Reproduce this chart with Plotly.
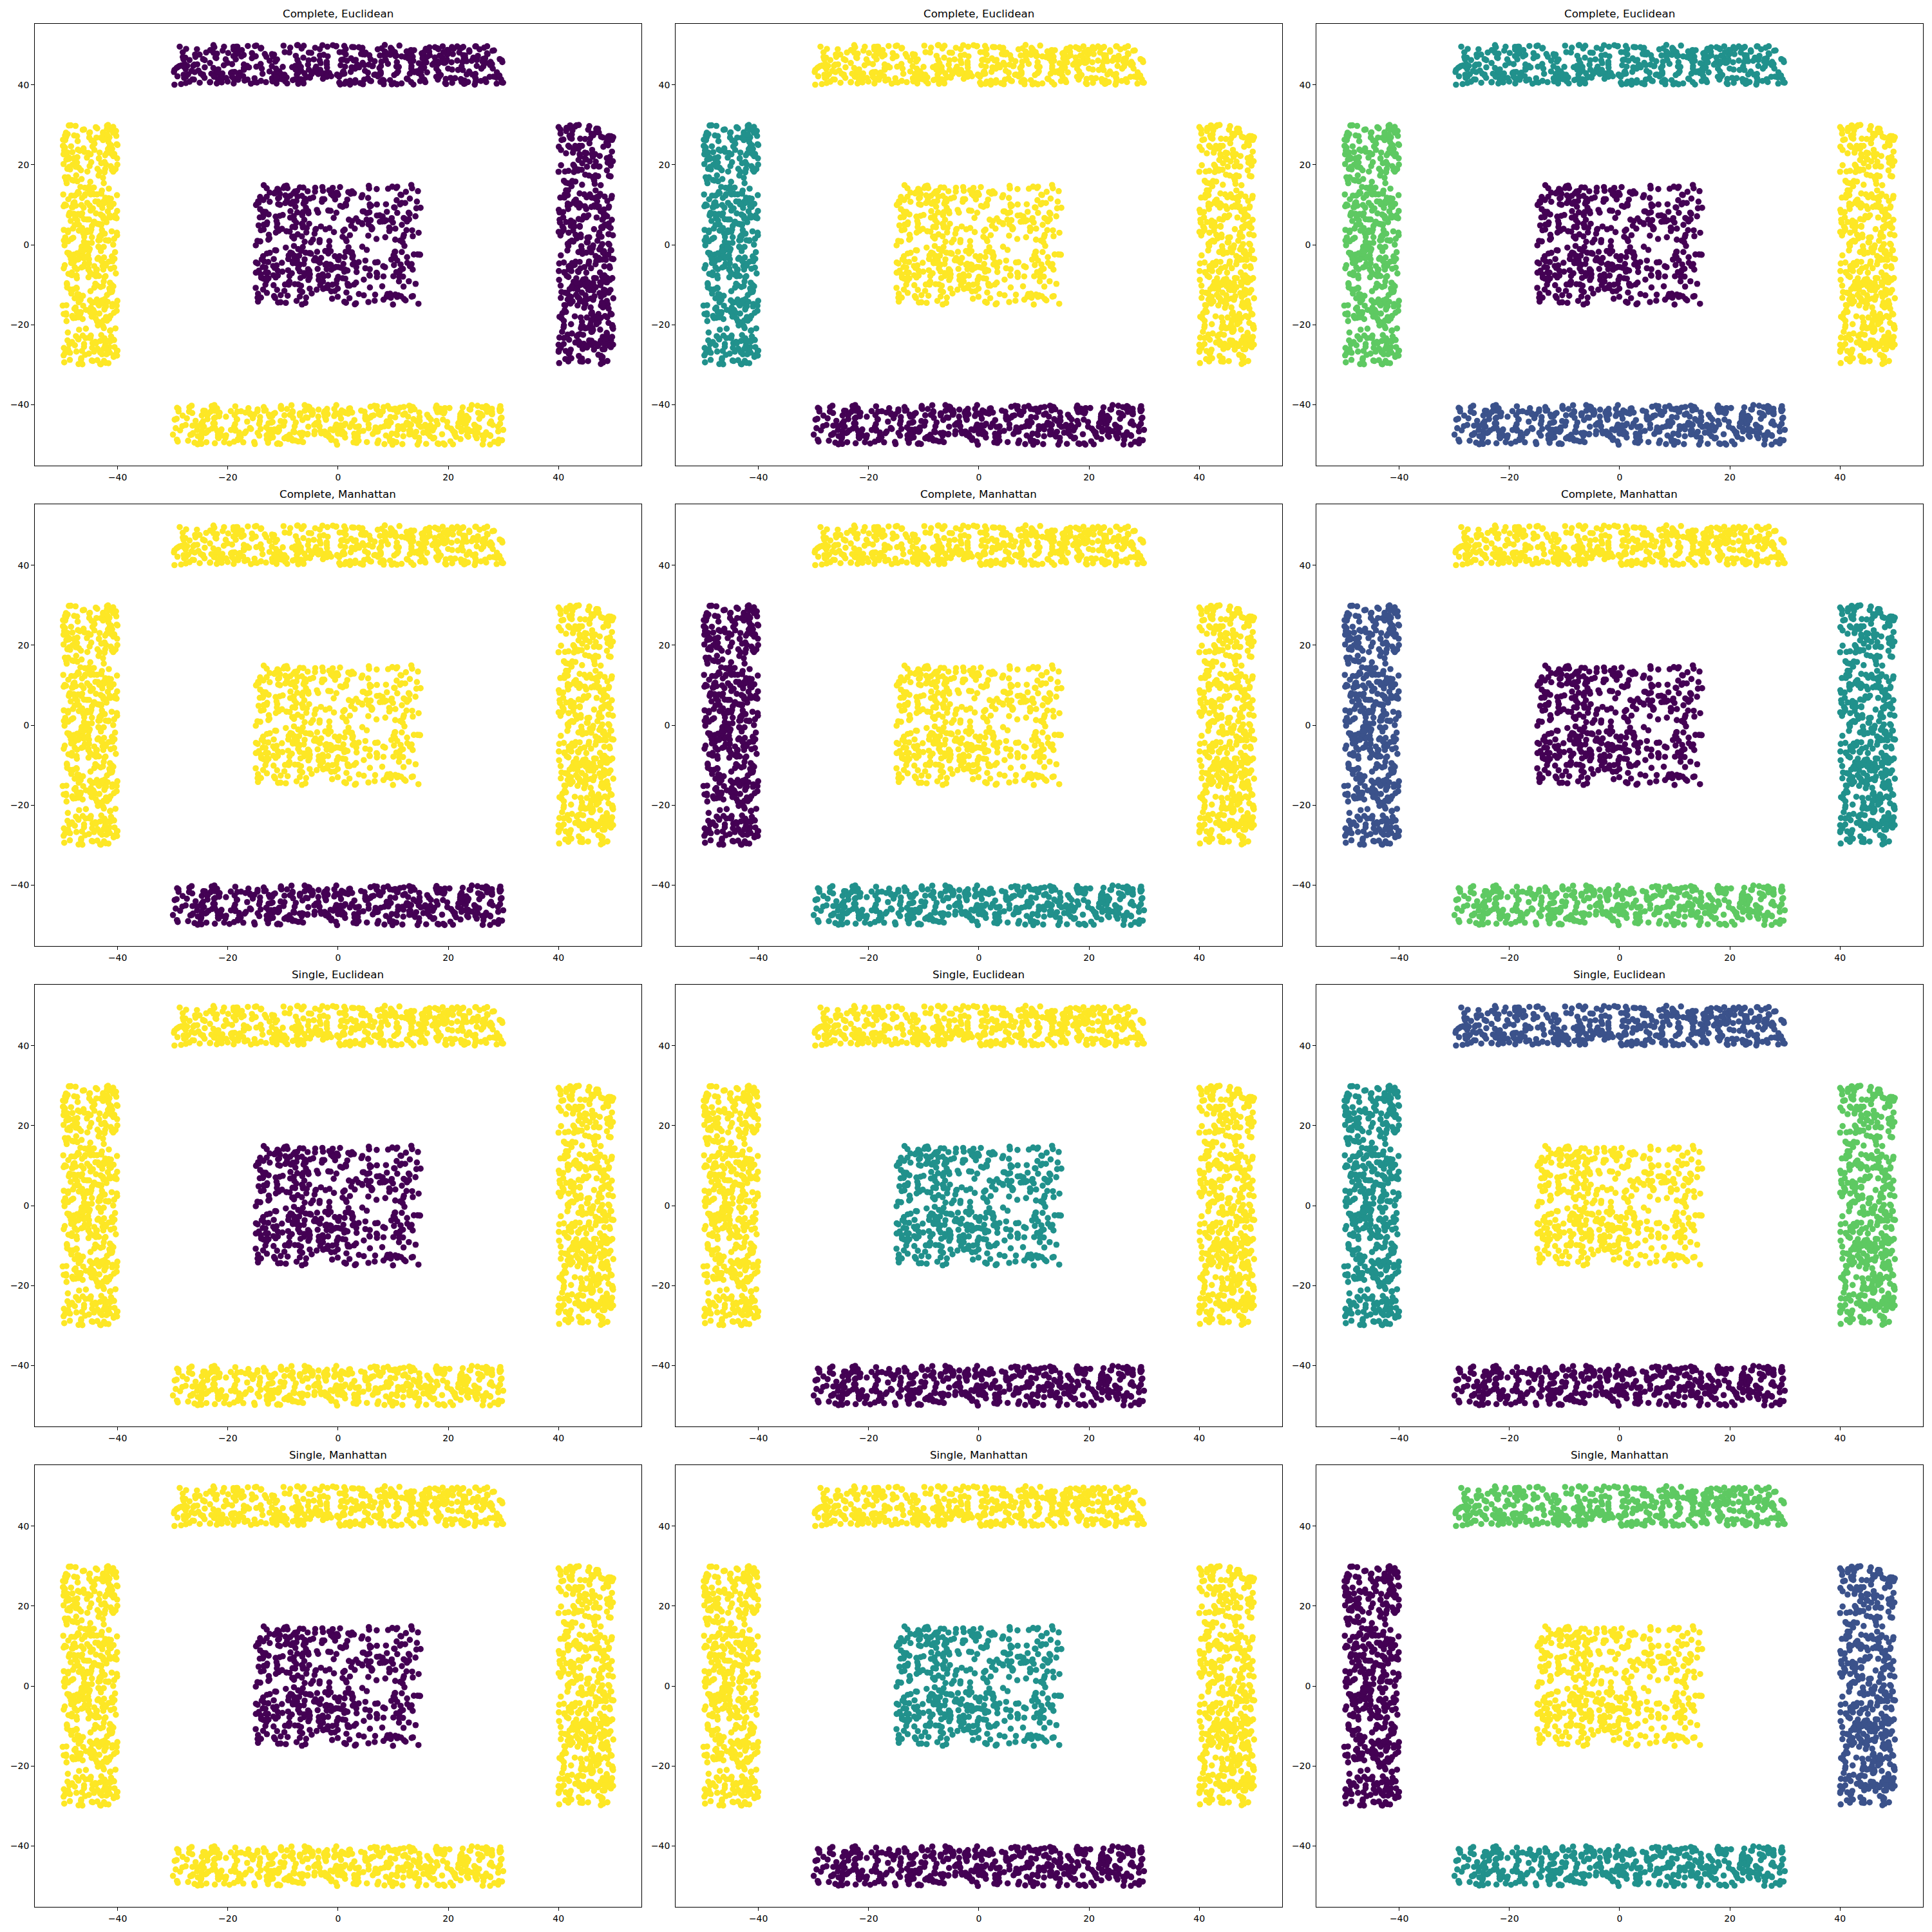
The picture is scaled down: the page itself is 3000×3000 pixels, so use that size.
import numpy as np
import plotly.graph_objects as go

# ---------------- data ----------------
# Five rectangular point clusters (data units); the same points appear in all 12 panels.
cluster_names = ["top", "bottom", "left", "right", "center"]
cluster_x_min = [-30, -30, -50, 40, -15]
cluster_x_max = [30, 30, -40, 50, 15]
cluster_y_min = [40, -50, -30, -30, -15]
cluster_y_max = [50, -40, 30, 30, 15]
cluster_counts = [500, 500, 500, 500, 500]

panel_titles = [
    "Complete, Euclidean", "Complete, Euclidean", "Complete, Euclidean",
    "Complete, Manhattan", "Complete, Manhattan", "Complete, Manhattan",
    "Single, Euclidean", "Single, Euclidean", "Single, Euclidean",
    "Single, Manhattan", "Single, Manhattan", "Single, Manhattan",
]

# Cluster colour (viridis level) per panel, in the order top, bottom, left, right, center
panel_labels = [
    ["purple", "yellow", "yellow", "purple", "purple"],
    ["yellow", "purple", "teal", "yellow", "yellow"],
    ["teal", "blue", "green", "yellow", "purple"],
    ["yellow", "purple", "yellow", "yellow", "yellow"],
    ["yellow", "teal", "purple", "yellow", "yellow"],
    ["yellow", "green", "blue", "teal", "purple"],
    ["yellow", "yellow", "yellow", "yellow", "purple"],
    ["yellow", "purple", "yellow", "yellow", "teal"],
    ["blue", "purple", "teal", "green", "yellow"],
    ["yellow", "yellow", "yellow", "yellow", "purple"],
    ["yellow", "purple", "yellow", "yellow", "teal"],
    ["green", "teal", "purple", "blue", "yellow"],
]

x_tick_values = [-40, -20, 0, 20, 40]
x_tick_labels = ["\u221240", "\u221220", "0", "20", "40"]
y_tick_values = [-40, -20, 0, 20, 40]
y_tick_labels = ["\u221240", "\u221220", "0", "20", "40"]

# ---------------- styling ----------------
viridis = {
    "purple": "#440154",
    "blue": "#3b528b",
    "teal": "#21918c",
    "green": "#5ec962",
    "yellow": "#fde725",
}

# NOTE: individual point positions cannot be read from the picture (thousands of
# overlapping dots); they are a fixed-seed uniform fill of each cluster's measured box.
rng = np.random.default_rng(7)
cluster_points = []
for i in range(len(cluster_names)):
    n = cluster_counts[i]
    px = rng.uniform(cluster_x_min[i], cluster_x_max[i], n)
    py = rng.uniform(cluster_y_min[i], cluster_y_max[i], n)
    cluster_points.append((px, py))

W = H = 3000
col_left = [54.3, 1049.3, 2044.3]
ax_w = 941.3
row_top = [37.3, 783.3, 1529.3, 2275.3]
ax_h = 685.7

fig = go.Figure()
annotations = []
layout_axes = {}
font_family = "DejaVu Sans"

for p in range(12):
    r, c = divmod(p, 3)
    idx = p + 1
    xs, ys, cols = [], [], []
    for k in range(len(cluster_names)):
        px, py = cluster_points[k]
        xs.append(px)
        ys.append(py)
        cols += [viridis[panel_labels[p][k]]] * len(px)
    xs = np.concatenate(xs)
    ys = np.concatenate(ys)
    xa = "x" if idx == 1 else f"x{idx}"
    ya = "y" if idx == 1 else f"y{idx}"
    fig.add_trace(go.Scatter(
        x=xs, y=ys, mode="markers", xaxis=xa, yaxis=ya,
        marker=dict(size=9.6, color=cols, line=dict(width=0)),
        showlegend=False, hoverinfo="skip",
    ))
    x0 = col_left[c] / W
    x1 = (col_left[c] + ax_w) / W
    y1 = 1 - row_top[r] / H
    y0 = 1 - (row_top[r] + ax_h) / H
    axis_common = dict(
        showline=True, mirror=True, linecolor="black", linewidth=1.1,
        showgrid=False, zeroline=False, ticks="outside", ticklen=5,
        tickwidth=1.1, tickcolor="black",
        tickfont=dict(family=font_family, size=14, color="black"),
    )
    xname = "xaxis" if idx == 1 else f"xaxis{idx}"
    yname = "yaxis" if idx == 1 else f"yaxis{idx}"
    layout_axes[xname] = dict(
        domain=[x0, x1], range=[-55, 55], anchor=ya,
        tickmode="array", tickvals=x_tick_values, ticktext=x_tick_labels,
        **axis_common)
    layout_axes[yname] = dict(
        domain=[y0, y1], range=[-55.2, 55.2], anchor=xa,
        tickmode="array", tickvals=y_tick_values, ticktext=y_tick_labels,
        **axis_common)
    annotations.append(dict(
        text=panel_titles[p], xref="paper", yref="paper",
        x=(x0 + x1) / 2, y=y1, xanchor="center", yanchor="bottom",
        yshift=4, showarrow=False,
        font=dict(family=font_family, size=16.7, color="black"),
    ))

fig.update_layout(
    width=W, height=H, margin=dict(l=0, r=0, t=0, b=0),
    paper_bgcolor="white", plot_bgcolor="white",
    annotations=annotations, **layout_axes,
)
fig.write_html("out.html")
